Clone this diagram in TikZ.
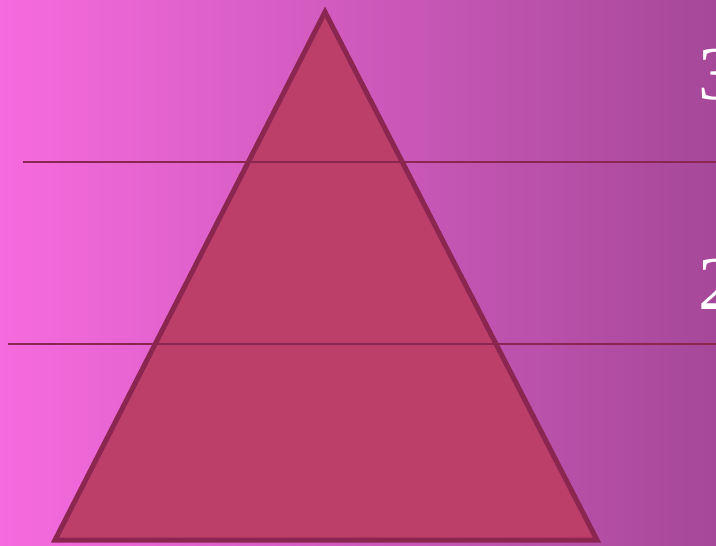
\documentclass[tikz,border=0pt]{standalone}
\usepackage{fontspec}
\newfontfamily\numfont{Liberation Serif}
\definecolor{bgA}{HTML}{F66BDF}
\definecolor{bgB}{HTML}{D45CC3}
\definecolor{bgC}{HTML}{A64899}
\definecolor{triFill}{HTML}{BB3F69}
\definecolor{triLine}{HTML}{8B2650}
\tikzset{
  pyramid/.style={draw=triLine, fill=triFill, line width=5pt, line join=miter},
  divider/.style={draw=triLine, line width=1.8pt},
  levelnum/.style={text=white, font=\numfont\fontsize{76}{76}\selectfont, inner sep=0pt, anchor=base west}
}
\begin{document}
\begin{tikzpicture}[x=1pt,y=-1pt]
\useasboundingbox (0,0) rectangle (716,546);
\shade[left color=bgA, middle color=bgB, right color=bgC] (0,0) rectangle (716,546);
\clip (0,0) rectangle (716,546);
\coordinate (apex) at (325,12);
\coordinate (bl) at (55,540);
\coordinate (br) at (597,540);
\path[pyramid] (apex) -- (br) -- (bl) -- cycle;
\coordinate (l1a) at (23,162);
\coordinate (l1b) at (716,162);
\coordinate (l2a) at (8,344);
\coordinate (l2b) at (716,344);
\draw[divider] (l1a) -- (l1b);
\draw[divider] (l2a) -- (l2b);
\node[levelnum] (n3) at (698,99) {3};
\node[levelnum] (n2) at (698,309) {2};
\end{tikzpicture}
\end{document}
